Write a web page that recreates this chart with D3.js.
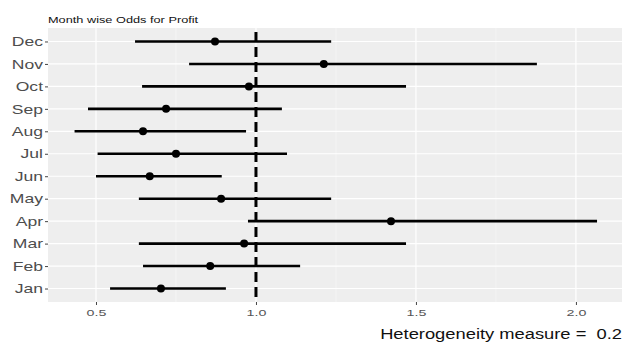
<!DOCTYPE html>
<html>
<head>
<meta charset="utf-8">
<script src="https://cdn.jsdelivr.net/npm/d3@7"></script>
<style>
body{margin:0;background:#fff;}
svg{font-family:"Liberation Sans",Arial,sans-serif;}
</style>
</head>
<body>
<div class="chart"></div>
<script>
var months = ["Jan","Feb","Mar","Apr","May","Jun","Jul","Aug","Sep","Oct","Nov","Dec"]
var odds   = [0.703,0.857,0.963,1.422,0.891,0.668,0.75,0.647,0.719,0.978,1.212,0.872]
var lower  = [0.544,0.647,0.634,0.975,0.634,0.5,0.505,0.433,0.475,0.644,0.791,0.622]
var upper  = [0.906,1.138,1.469,2.066,1.235,0.893,1.097,0.969,1.081,1.469,1.878,1.235]
var xTicks = [0.5,1.0,1.5,2.0]
var xMinor = [0.75,1.25,1.75]
var refLine = 1
var title = "Month wise Odds for Profit"
var footer = "Heterogeneity measure =  0.2"

var width = 625, height = 342
var pLeft = 48, pRight = 622, pTop = 28, pBottom = 302
var svg = d3.select(".chart").append("svg").attr("width",width).attr("height",height)

var x = d3.scaleLinear().domain([0.35,2.144]).range([pLeft,pRight])
var y = d3.scalePoint().domain(months).range([pBottom,pTop]).padding(0.6)

// the picture is stretched sideways, so text is widened to match
function stretch(sel, sx){
	sel.each(function(){
		var t = d3.select(this)
		var x0 = +t.attr("x") || 0
		t.attr("x",x0/sx).attr("transform","scale("+sx+",1)")
	})
}

svg.append("rect").attr("x",pLeft).attr("y",pTop).attr("width",pRight-pLeft).attr("height",pBottom-pTop).attr("fill","#eeeeee")

// grid
svg.append("g").selectAll("line").data(xMinor).enter().append("line")
	.attr("x1",function(d){return x(d)}).attr("x2",function(d){return x(d)})
	.attr("y1",pTop).attr("y2",pBottom).attr("stroke","#fafafa").attr("stroke-width",0.6)
svg.append("g").selectAll("line").data(xTicks).enter().append("line")
	.attr("x1",function(d){return x(d)}).attr("x2",function(d){return x(d)})
	.attr("y1",pTop).attr("y2",pBottom).attr("stroke","#fff").attr("stroke-width",1.2)
svg.append("g").selectAll("line").data(months).enter().append("line")
	.attr("x1",pLeft).attr("x2",pRight)
	.attr("y1",function(d){return y(d)}).attr("y2",function(d){return y(d)})
	.attr("stroke","#fff").attr("stroke-width",1.2)

// axes
var xAxis = svg.append("g").attr("transform","translate(0,"+pBottom+")")
	.call(d3.axisBottom(x).tickValues(xTicks).tickFormat(d3.format(".1f")).tickSize(3).tickPadding(4))
xAxis.select(".domain").remove()
xAxis.selectAll("line").attr("stroke","#444")
xAxis.selectAll("text").attr("fill","#555").style("font-size","9.5px")
stretch(xAxis.selectAll("text"),1.5)

var yAxis = svg.append("g").attr("transform","translate("+pLeft+",0)")
	.call(d3.axisLeft(y).tickSize(3).tickPadding(2))
yAxis.select(".domain").remove()
yAxis.selectAll("line").attr("stroke","#444")
yAxis.selectAll("text").attr("fill","#4d4d4d").style("font-size","13px")
stretch(yAxis.selectAll("text"),1.35)

// reference line
svg.append("line").attr("x1",x(refLine)).attr("x2",x(refLine))
	.attr("y1",pTop+4).attr("y2",pBottom).attr("stroke","#000").attr("stroke-width",3)
	.attr("stroke-dasharray","10,5")

// intervals and points
svg.append("g").selectAll("line").data(months).enter().append("line")
	.attr("x1",function(d,i){return x(lower[i])}).attr("x2",function(d,i){return x(upper[i])})
	.attr("y1",function(d){return y(d)}).attr("y2",function(d){return y(d)})
	.attr("stroke","#000").attr("stroke-width",2.6)
svg.append("g").selectAll("circle").data(months).enter().append("circle")
	.attr("cx",function(d,i){return x(odds[i])}).attr("cy",function(d){return y(d)})
	.attr("r",4).attr("fill","#000")

svg.append("g").attr("transform","translate("+pLeft+",23)")
	.append("text").text(title).style("font-size","8.5px").attr("fill","#111")
	.call(stretch,1.5)
svg.append("g").attr("transform","translate("+pRight+",339)")
	.append("text").attr("text-anchor","end").style("white-space","pre")
	.text(footer).style("font-size","14px").attr("fill","#111")
	.call(stretch,1.31)
</script>
</body>
</html>
